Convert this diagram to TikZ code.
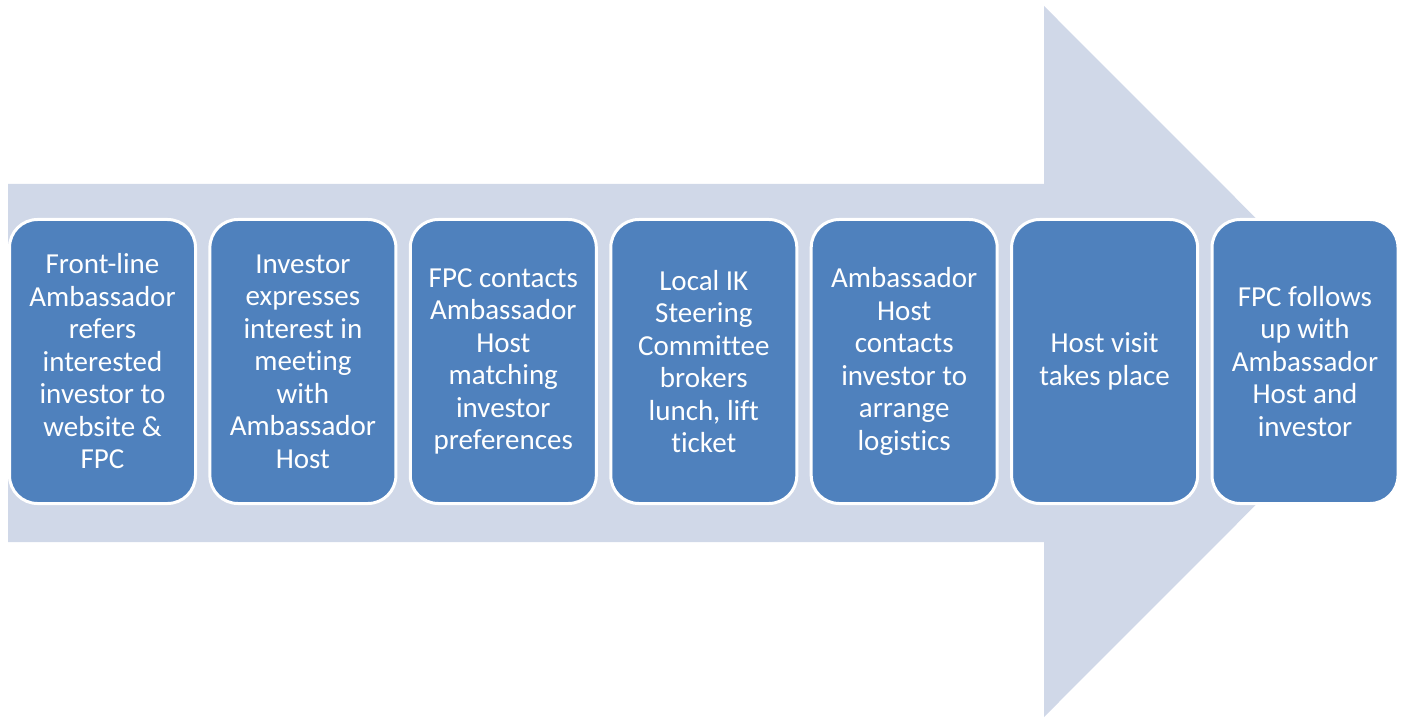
\documentclass[tikz,border=0pt]{standalone}
\usepackage{fontspec}
\setmainfont[Ligatures={NoCommon}]{Carlito}
\definecolor{arrowfill}{HTML}{D0D8E8}
\definecolor{boxfill}{HTML}{4F81BD}
\begin{document}
\begin{tikzpicture}[x=1pt,y=-1pt,
  stepbox/.style={draw=white, line width=3pt, fill=boxfill, rounded corners=28pt,
    minimum width=186pt, minimum height=284pt, inner sep=0pt, align=center,
    text=white, font=\fontsize{29}{32.5}\selectfont}]
\useasboundingbox (0,0) rectangle (1402,719);
\fill[arrowfill] (8,184) -- (1044,184) -- (1044,6) -- (1399,361.5) -- (1044,717) -- (1044,542) -- (8,542) -- cycle;
\node[stepbox] (s1) at (102.5,361.5) {Front-line\\Ambassador\\refers\\interested\\investor to\\website \&\\FPC};
\node[stepbox] (s2) at (302.9,361.5) {Investor\\expresses\\interest in\\meeting\\with\\Ambassador\\Host};
\node[stepbox] (s3) at (503.3,361.5) {FPC contacts\\Ambassador\\Host\\matching\\investor\\preferences};
\node[stepbox] (s4) at (703.8,361.5) {Local IK\\Steering\\Committee\\brokers\\lunch, lift\\ticket};
\node[stepbox] (s5) at (904.2,361.5) {Ambassador\\Host\\contacts\\investor to\\arrange\\logistics};
\node[stepbox] (s6) at (1104.6,361.5) {Host visit\\takes place};
\node[stepbox] (s7) at (1305,361.5) {FPC follows\\up with\\Ambassador\\Host and\\investor};
\end{tikzpicture}
\end{document}
